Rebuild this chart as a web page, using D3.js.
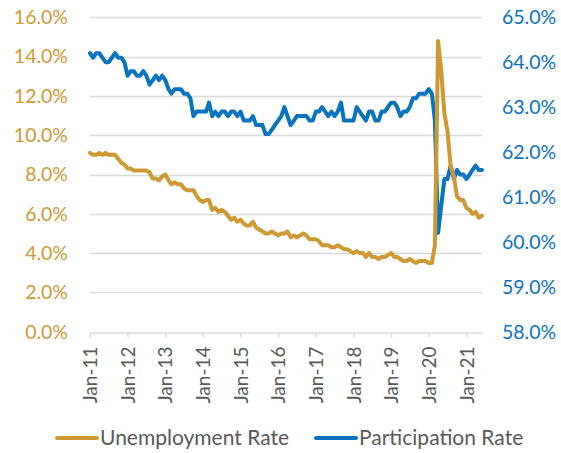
<!DOCTYPE html>
<html lang="en">
<head>
<meta charset="utf-8">
<title>Unemployment and Participation Rate</title>
<script src="https://d3js.org/d3.v7.min.js"></script>
<style>
  body { margin: 0; background: #fff; }
  svg { font-family: Lato, "Open Sans", sans-serif; display: block; }
</style>
</head>
<body>
<svg id="chart"></svg>
<script>
// monthly values, Jan 2011 - Jun 2021
const unemployment = [
  9.1, 9.0, 9.0, 9.1, 9.0, 9.1, 9.0, 9.0, 9.0, 8.8, 8.6, 8.5,
  8.3, 8.3, 8.2, 8.2, 8.2, 8.2, 8.2, 8.1, 7.8, 7.8, 7.7, 7.9,
  8.0, 7.7, 7.5, 7.6, 7.5, 7.5, 7.3, 7.2, 7.2, 7.2, 6.9, 6.7,
  6.6, 6.7, 6.7, 6.2, 6.3, 6.1, 6.2, 6.1, 5.9, 5.7, 5.8, 5.6,
  5.7, 5.5, 5.4, 5.4, 5.6, 5.3, 5.2, 5.1, 5.0, 5.0, 5.1, 5.0,
  4.9, 5.0, 5.0, 5.1, 4.8, 4.9, 4.8, 4.9, 5.0, 4.9, 4.7, 4.7,
  4.7, 4.6, 4.4, 4.4, 4.4, 4.3, 4.3, 4.4, 4.3, 4.2, 4.2, 4.1,
  4.0, 4.1, 4.0, 4.0, 3.8, 4.0, 3.8, 3.8, 3.7, 3.8, 3.8, 3.9,
  4.0, 3.8, 3.8, 3.7, 3.6, 3.6, 3.7, 3.6, 3.5, 3.6, 3.6, 3.6,
  3.5, 3.5, 4.4, 14.8, 13.3, 11.1, 10.2, 8.4, 7.9, 6.9, 6.7, 6.7,
  6.3, 6.2, 6.0, 6.1, 5.8, 5.9
];
const participation = [
  64.2, 64.1, 64.2, 64.2, 64.1, 64.0, 64.0, 64.1, 64.2, 64.1, 64.1, 64.0,
  63.7, 63.8, 63.8, 63.7, 63.7, 63.8, 63.7, 63.5, 63.6, 63.7, 63.6, 63.7,
  63.6, 63.4, 63.3, 63.4, 63.4, 63.4, 63.3, 63.3, 63.2, 62.8, 62.9, 62.9,
  62.9, 62.9, 63.1, 62.8, 62.9, 62.8, 62.9, 62.9, 62.8, 62.9, 62.9, 62.8,
  62.9, 62.7, 62.7, 62.7, 62.8, 62.6, 62.6, 62.6, 62.4, 62.4, 62.5, 62.6,
  62.7, 62.8, 63.0, 62.8, 62.6, 62.7, 62.8, 62.8, 62.8, 62.8, 62.7, 62.7,
  62.9, 62.9, 63.0, 62.9, 62.8, 62.9, 62.8, 62.9, 63.1, 62.7, 62.7, 62.7,
  62.7, 63.0, 62.9, 62.8, 62.7, 62.9, 62.9, 62.7, 62.7, 62.9, 62.9, 63.0,
  63.1, 63.1, 63.0, 62.8, 62.9, 62.9, 63.0, 63.2, 63.2, 63.3, 63.3, 63.3,
  63.4, 63.3, 62.7, 60.2, 60.8, 61.4, 61.4, 61.7, 61.4, 61.6, 61.5, 61.5,
  61.4, 61.5, 61.6, 61.7, 61.6, 61.6
];
const xTickLabels = ["Jan-11", "Jan-12", "Jan-13", "Jan-14", "Jan-15", "Jan-16",
                     "Jan-17", "Jan-18", "Jan-19", "Jan-20", "Jan-21"];
const leftTicks = [0, 2, 4, 6, 8, 10, 12, 14, 16];
const rightTicks = [58, 59, 60, 61, 62, 63, 64, 65];
const seriesNames = ["Unemployment Rate", "Participation Rate"];

const gold = "#CE9933";
const blue = "#0873BE";
const grey = "#595959";

const width = 561, height = 453;
const plot = { left: 90, right: 482, top: 17.3, bottom: 331.7 };

const svg = d3.select("#chart")
    .attr("width", width)
    .attr("height", height);

const start = new Date(2011, 0, 1);
const months = unemployment.map((d, i) => d3.timeMonth.offset(start, i));

const x = d3.scaleTime()
    .domain([start, months[months.length - 1]])
    .range([plot.left, plot.right]);
const yLeft = d3.scaleLinear().domain([0, 16]).range([plot.bottom, plot.top]);
const yRight = d3.scaleLinear().domain([58, 65]).range([plot.bottom, plot.top]);

// gridlines
svg.append("g")
    .selectAll("line")
    .data(leftTicks.slice(1))
    .join("line")
    .attr("x1", plot.left)
    .attr("x2", plot.right)
    .attr("y1", d => Math.round(yLeft(d)) + 0.5)
    .attr("y2", d => Math.round(yLeft(d)) + 0.5)
    .attr("stroke", "#D9D9D9")
    .attr("stroke-width", 1.3);

// x axis
const yearDates = xTickLabels.map((d, i) => new Date(2011 + i, 0, 1));
const xAxis = d3.axisBottom(x)
    .tickValues(yearDates)
    .tickSize(5)
    .tickSizeOuter(0)
    .tickFormat((d, i) => xTickLabels[i]);

const gx = svg.append("g")
    .attr("transform", `translate(0, ${Math.round(plot.bottom) + 0.5})`)
    .call(xAxis);
gx.select(".domain").attr("stroke", "#D9D9D9").attr("stroke-width", 1.3);
gx.selectAll(".tick line").attr("stroke", "#D9D9D9").attr("stroke-width", 1.3);
gx.selectAll(".tick text")
    .attr("fill", grey)
    .attr("font-size", 19)
    .attr("font-family", "Lato, sans-serif")
    .attr("text-anchor", "end")
    .attr("transform", "rotate(-90)")
    .attr("x", -14)
    .attr("y", 0)
    .attr("dy", "0.35em");

// left axis labels
svg.append("g")
    .selectAll("text")
    .data(leftTicks)
    .join("text")
    .attr("x", 68)
    .attr("y", d => yLeft(d))
    .attr("dy", "0.35em")
    .attr("text-anchor", "end")
    .attr("fill", gold)
    .attr("font-size", 19.5)
    .text(d => d.toFixed(1) + "%");

// right axis labels
svg.append("g")
    .selectAll("text")
    .data(rightTicks)
    .join("text")
    .attr("x", 502)
    .attr("y", d => yRight(d))
    .attr("dy", "0.35em")
    .attr("text-anchor", "start")
    .attr("fill", blue)
    .attr("font-size", 19.5)
    .text(d => d.toFixed(1) + "%");

// lines
const unempLine = d3.line()
    .x((d, i) => x(months[i]))
    .y(d => yLeft(d));
const partLine = d3.line()
    .x((d, i) => x(months[i]))
    .y(d => yRight(d));

svg.append("path")
    .datum(participation)
    .attr("d", partLine)
    .attr("fill", "none")
    .attr("stroke", blue)
    .attr("stroke-width", 4)
    .attr("stroke-linejoin", "round")
    .attr("stroke-linecap", "round");

svg.append("path")
    .datum(unemployment)
    .attr("d", unempLine)
    .attr("fill", "none")
    .attr("stroke", gold)
    .attr("stroke-width", 4)
    .attr("stroke-linejoin", "round")
    .attr("stroke-linecap", "round");

// legend
const legendY = 438;
const legendItems = [
  { name: seriesNames[0], color: gold, x: 57 },
  { name: seriesNames[1], color: blue, x: 316 }
];
const lg = svg.append("g")
    .selectAll("g")
    .data(legendItems)
    .join("g")
    .attr("transform", d => `translate(${d.x}, ${legendY})`);
lg.append("line")
    .attr("x1", 0).attr("x2", 40)
    .attr("stroke", d => d.color)
    .attr("stroke-width", 4)
    .attr("stroke-linecap", "round");
lg.append("text")
    .attr("x", 43)
    .attr("dy", "0.35em")
    .attr("fill", grey)
    .attr("font-size", 21)
    .text(d => d.name);
</script>
</body>
</html>
